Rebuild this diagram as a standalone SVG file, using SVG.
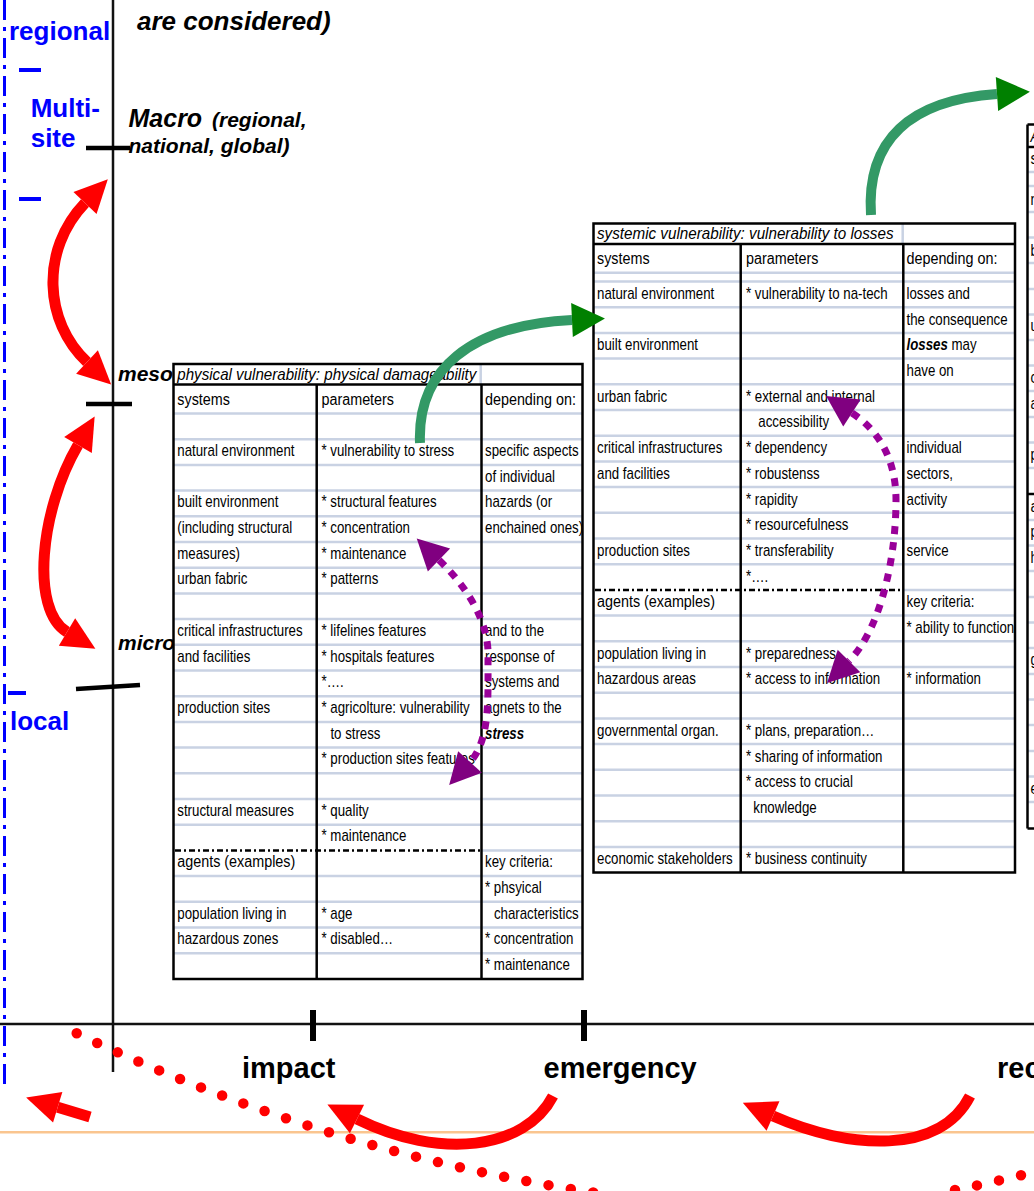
<svg xmlns="http://www.w3.org/2000/svg" width="1034" height="1191" viewBox="0 0 1034 1191">
<style>
.t{font-family:"Liberation Sans",Arial,sans-serif;font-size:16px;fill:#000}
.h{font-size:17.3px}
.ti{font-family:"Liberation Sans",Arial,sans-serif;font-style:italic;font-size:17px;fill:#000}
.bi{font-weight:bold;font-style:italic}
.grid{stroke:#c9d2e3;stroke-width:2.5;fill:none}
.blk{stroke:#000;stroke-width:2.5;fill:none}
.dd{stroke:#000;stroke-width:2.5;stroke-dasharray:6 3 2 3;fill:none}
.blue{font-family:"Liberation Sans",Arial,sans-serif;font-weight:bold;font-size:26px;fill:#0000ff}
.lab{font-family:"Liberation Sans",Arial,sans-serif;font-weight:bold;font-style:italic;fill:#000}
.ph{font-family:"Liberation Sans",Arial,sans-serif;font-weight:bold;font-size:29px;fill:#000}
.red{stroke:#ff0000;stroke-width:11;fill:none}
.grn{stroke:#339966;stroke-width:10;fill:none}
.pur{stroke:#990099;stroke-width:7;stroke-dasharray:8 8;fill:none}
.dots{stroke:#ff0000;stroke-width:10.5;stroke-linecap:round;stroke-dasharray:0 22.6;fill:none}
</style>
<defs>
<marker id="hr" markerUnits="userSpaceOnUse" orient="auto-start-reverse" overflow="visible" markerWidth="1" markerHeight="1" refX="0" refY="0"><path d="M0,-16 L33,0 L0,16Z" fill="#ff0000"/></marker>
<marker id="hg" markerUnits="userSpaceOnUse" orient="auto" overflow="visible" markerWidth="1" markerHeight="1" refX="0" refY="0"><path d="M0,-17 L33,0 L0,17Z" fill="#008000"/></marker>
<marker id="hp" markerUnits="userSpaceOnUse" orient="auto-start-reverse" overflow="visible" markerWidth="1" markerHeight="1" refX="0" refY="0"><path d="M0,-16 L31,0 L0,16Z" fill="#800080"/></marker>
</defs>
<rect width="1034" height="1191" fill="#fff"/>

<g id="axes">
<line x1="4.5" y1="0" x2="4.5" y2="1085" stroke="#0000ff" stroke-width="3" stroke-dasharray="20 7 4 7"/>
<line x1="113" y1="0" x2="113" y2="1072" stroke="#111" stroke-width="2.5"/>
<line x1="0" y1="1024" x2="1034" y2="1024" stroke="#111" stroke-width="2.5"/>
<line x1="86" y1="148" x2="130" y2="148" stroke="#000" stroke-width="4.5"/>
<line x1="86" y1="404" x2="132" y2="404" stroke="#000" stroke-width="4.5"/>
<line x1="76" y1="689" x2="140" y2="685" stroke="#000" stroke-width="4.5"/>
<line x1="313" y1="1010" x2="313" y2="1041" stroke="#000" stroke-width="6"/>
<line x1="584" y1="1010" x2="584" y2="1041" stroke="#000" stroke-width="6"/>
<line x1="19" y1="70" x2="41" y2="70" stroke="#0000ff" stroke-width="4"/>
<line x1="19" y1="199" x2="41" y2="199" stroke="#0000ff" stroke-width="4"/>
<line x1="8" y1="693" x2="26" y2="693" stroke="#0000ff" stroke-width="4"/>
<line x1="0" y1="1132.3" x2="1034" y2="1132.3" stroke="#fac58f" stroke-width="2.5"/>
</g>

<g id="scale-labels">
<text class="blue" x="9" y="40">regional</text>
<text class="blue" x="30.7" y="117">Multi-</text>
<text class="blue" x="30.7" y="147">site</text>
<text class="blue" x="10" y="730">local</text>
<text class="lab" x="137" y="30" font-size="26">are considered)</text>
<text class="lab" x="128.5" y="127" font-size="25">Macro<tspan font-size="21" dx="4"> (regional,</tspan></text>
<text class="lab" x="128.5" y="153" font-size="21">national, global)</text>
<text class="lab" x="118" y="381" font-size="21">meso</text>
<text class="lab" x="118" y="650" font-size="21">micro</text>
<text class="ph" x="242" y="1078">impact</text>
<text class="ph" x="543.5" y="1078">emergency</text>
<text class="ph" x="997" y="1078">rec</text>
</g>

<g id="table-physical">
<rect x="173.5" y="364" width="409" height="615" fill="#fff"/>
<g class="grid">
<line x1="480.7" y1="364" x2="480.7" y2="384.5"/>
<line x1="174" y1="413.5" x2="582" y2="413.5"/><line x1="174" y1="439.2" x2="582" y2="439.2"/><line x1="174" y1="464.9" x2="582" y2="464.9"/><line x1="174" y1="490.6" x2="582" y2="490.6"/><line x1="174" y1="516.3" x2="582" y2="516.3"/><line x1="174" y1="542" x2="582" y2="542"/><line x1="174" y1="567.7" x2="582" y2="567.7"/><line x1="174" y1="593.4" x2="582" y2="593.4"/><line x1="174" y1="619.1" x2="582" y2="619.1"/><line x1="174" y1="644.8" x2="582" y2="644.8"/><line x1="174" y1="670.5" x2="582" y2="670.5"/><line x1="174" y1="696.2" x2="582" y2="696.2"/><line x1="174" y1="721.9" x2="582" y2="721.9"/><line x1="174" y1="747.6" x2="582" y2="747.6"/><line x1="174" y1="773.3" x2="582" y2="773.3"/><line x1="174" y1="799" x2="582" y2="799"/><line x1="174" y1="824.7" x2="582" y2="824.7"/><line x1="482" y1="850.4" x2="582" y2="850.4"/><line x1="174" y1="876.1" x2="582" y2="876.1"/><line x1="174" y1="901.8" x2="582" y2="901.8"/><line x1="174" y1="927.5" x2="582" y2="927.5"/><line x1="174" y1="953.2" x2="582" y2="953.2"/>
</g>
<line class="dd" x1="175" y1="850.4" x2="481" y2="850.4"/>
<line class="blk" x1="174" y1="384.5" x2="582" y2="384.5"/>
<line class="blk" x1="316.7" y1="384.5" x2="316.7" y2="979"/>
<line class="blk" x1="481.5" y1="384.5" x2="481.5" y2="979"/>
<rect class="blk" x="173.5" y="364" width="409" height="615"/>
<text class="ti" x="177.3" y="380" textLength="299" lengthAdjust="spacingAndGlyphs">physical vulnerability: physical damageability</text>
<g class="t" transform="translate(177.3 0) scale(.83 1)">
<text class="h" x="0" y="404.6">systems</text>
<text x="0" y="456">natural environment</text>
<text x="0" y="507.4">built environment</text>
<text x="0" y="533.1">(including structural</text>
<text x="0" y="558.8">measures)</text>
<text x="0" y="584.5">urban fabric</text>
<text x="0" y="635.9">critical infrastructures</text>
<text x="0" y="661.6">and facilities</text>
<text x="0" y="713">production sites</text>
<text x="0" y="815.8">structural measures</text>
<text class="h" x="0" y="867.2">agents (examples)</text>
<text x="0" y="918.6">population living in</text>
<text x="0" y="944.3">hazardous zones</text>
</g>
<g class="t" transform="translate(321.5 0) scale(.83 1)">
<text class="h" x="0" y="404.6">parameters</text>
<text x="0" y="456">* vulnerability to stress</text>
<text x="0" y="507.4">* structural features</text>
<text x="0" y="533.1">* concentration</text>
<text x="0" y="558.8">* maintenance</text>
<text x="0" y="584.5">* patterns</text>
<text x="0" y="635.9">* lifelines features</text>
<text x="0" y="661.6">* hospitals features</text>
<text x="0" y="687.3">*….</text>
<text x="0" y="713">* agricolture: vulnerability</text>
<text x="10.7" y="738.7">to stress</text>
<text x="0" y="764.4">* production sites features</text>
<text x="0" y="815.8">* quality</text>
<text x="0" y="841.5">* maintenance</text>
<text x="0" y="918.6">* age</text>
<text x="0" y="944.3">* disabled…</text>
</g>
<g class="t" transform="translate(485 0) scale(.83 1)">
<text class="h" x="0" y="404.6">depending on:</text>
<text x="0" y="456">specific aspects</text>
<text x="0" y="481.7">of individual</text>
<text x="0" y="507.4">hazards (or</text>
<text x="0" y="533.1">enchained ones)</text>
<text x="0" y="635.9">and to the</text>
<text x="0" y="661.6">response of</text>
<text x="0" y="687.3">systems and</text>
<text x="0" y="713">agnets to the</text>
<text class="bi" x="0" y="738.7">stress</text>
<text x="0" y="867.2">key criteria:</text>
<text x="0" y="892.9">* phsyical</text>
<text x="10.7" y="918.6">characteristics</text>
<text x="0" y="944.3">* concentration</text>
<text x="0" y="970">* maintenance</text>
</g>
</g>

<g id="table-systemic">
<rect x="593.5" y="223.5" width="421.5" height="649" fill="#fff"/>
<g class="grid">
<line x1="902.7" y1="224" x2="902.7" y2="244"/>
<line x1="594" y1="272.7" x2="1015" y2="272.7"/><line x1="594" y1="281.5" x2="1015" y2="281.5"/>
<line x1="594" y1="307.2" x2="1015" y2="307.2"/><line x1="594" y1="332.9" x2="1015" y2="332.9"/><line x1="594" y1="358.6" x2="1015" y2="358.6"/><line x1="594" y1="384.3" x2="1015" y2="384.3"/><line x1="594" y1="410" x2="1015" y2="410"/><line x1="594" y1="435.7" x2="1015" y2="435.7"/><line x1="594" y1="461.4" x2="1015" y2="461.4"/><line x1="594" y1="487.1" x2="1015" y2="487.1"/><line x1="594" y1="512.8" x2="1015" y2="512.8"/><line x1="594" y1="538.5" x2="1015" y2="538.5"/><line x1="594" y1="564.2" x2="1015" y2="564.2"/><line x1="903" y1="589.9" x2="1015" y2="589.9"/><line x1="594" y1="615.6" x2="1015" y2="615.6"/><line x1="594" y1="641.3" x2="1015" y2="641.3"/><line x1="594" y1="667" x2="1015" y2="667"/><line x1="594" y1="692.7" x2="1015" y2="692.7"/><line x1="594" y1="718.4" x2="1015" y2="718.4"/><line x1="594" y1="744.1" x2="1015" y2="744.1"/><line x1="594" y1="769.8" x2="1015" y2="769.8"/><line x1="594" y1="795.5" x2="1015" y2="795.5"/><line x1="594" y1="821.2" x2="1015" y2="821.2"/><line x1="594" y1="846.9" x2="1015" y2="846.9"/>
</g>
<line class="dd" x1="595" y1="589.9" x2="903" y2="589.9"/>
<line class="blk" x1="594" y1="244" x2="1015" y2="244"/>
<line class="blk" x1="740.7" y1="244" x2="740.7" y2="872.6"/>
<line class="blk" x1="903.3" y1="244" x2="903.3" y2="872.6"/>
<rect class="blk" x="593.5" y="223.5" width="421.5" height="649"/>
<text class="ti" x="597" y="238.5" textLength="296.5" lengthAdjust="spacingAndGlyphs">systemic vulnerability: vulnerability to losses</text>
<g class="t" transform="translate(597 0) scale(.83 1)">
<text class="h" x="0" y="264">systems</text>
<text x="0" y="299">natural environment</text>
<text x="0" y="350.4">built environment</text>
<text x="0" y="401.8">urban fabric</text>
<text x="0" y="453.2">critical infrastructures</text>
<text x="0" y="478.9">and facilities</text>
<text x="0" y="556">production sites</text>
<text class="h" x="0" y="607.4">agents (examples)</text>
<text x="0" y="658.8">population living in</text>
<text x="0" y="684.5">hazardous areas</text>
<text x="0" y="735.9">governmental organ.</text>
<text x="0" y="864.4">economic stakeholders</text>
</g>
<g class="t" transform="translate(746 0) scale(.83 1)">
<text class="h" x="0" y="264">parameters</text>
<text x="0" y="299">* vulnerability to na-tech</text>
<text x="0" y="401.8">* external and internal</text>
<text x="14.8" y="427.5">accessibility</text>
<text x="0" y="453.2">* dependency</text>
<text x="0" y="478.9">* robustenss</text>
<text x="0" y="504.6">* rapidity</text>
<text x="0" y="530.3">* resourcefulness</text>
<text x="0" y="556">* transferability</text>
<text x="0" y="581.7">*….</text>
<text x="0" y="658.8">* preparedness</text>
<text x="0" y="684.5">* access to information</text>
<text x="0" y="735.9">* plans, preparation…</text>
<text x="0" y="761.6">* sharing of information</text>
<text x="0" y="787.3">* access to crucial</text>
<text x="8.8" y="813">knowledge</text>
<text x="0" y="864.4">* business continuity</text>
</g>
<g class="t" transform="translate(906.5 0) scale(.83 1)">
<text class="h" x="0" y="264">depending on:</text>
<text x="0" y="299">losses and</text>
<text x="0" y="324.7">the consequence</text>
<text x="0" y="350.4"><tspan class="bi">losses</tspan> may</text>
<text x="0" y="376.1">have on</text>
<text x="0" y="453.2">individual</text>
<text x="0" y="478.9">sectors,</text>
<text x="0" y="504.6">activity</text>
<text x="0" y="556">service</text>
<text x="0" y="607.4">key criteria:</text>
<text x="0" y="633.1">* ability to function</text>
<text x="0" y="684.5">* information</text>
</g>
</g>

<g id="table-partial">
<rect x="1027.5" y="124.5" width="10" height="704" fill="#fff"/>
<g class="grid">
<line x1="1028" y1="172" x2="1034" y2="172"/><line x1="1028" y1="186" x2="1034" y2="186"/><line x1="1028" y1="212" x2="1034" y2="212"/><line x1="1028" y1="237.5" x2="1034" y2="237.5"/><line x1="1028" y1="263" x2="1034" y2="263"/><line x1="1028" y1="289" x2="1034" y2="289"/><line x1="1028" y1="314.5" x2="1034" y2="314.5"/><line x1="1028" y1="340" x2="1034" y2="340"/><line x1="1028" y1="365.5" x2="1034" y2="365.5"/><line x1="1028" y1="391" x2="1034" y2="391"/><line x1="1028" y1="417" x2="1034" y2="417"/><line x1="1028" y1="442.5" x2="1034" y2="442.5"/><line x1="1028" y1="468" x2="1034" y2="468"/><line x1="1028" y1="520" x2="1034" y2="520"/><line x1="1028" y1="545.5" x2="1034" y2="545.5"/><line x1="1028" y1="571" x2="1034" y2="571"/><line x1="1028" y1="597" x2="1034" y2="597"/><line x1="1028" y1="622.5" x2="1034" y2="622.5"/><line x1="1028" y1="648" x2="1034" y2="648"/><line x1="1028" y1="674" x2="1034" y2="674"/><line x1="1028" y1="699.5" x2="1034" y2="699.5"/><line x1="1028" y1="725" x2="1034" y2="725"/><line x1="1028" y1="751" x2="1034" y2="751"/><line x1="1028" y1="776.5" x2="1034" y2="776.5"/><line x1="1028" y1="802" x2="1034" y2="802"/>
</g>
<line class="blk" x1="1027.5" y1="124.5" x2="1034" y2="124.5"/>
<line class="blk" x1="1027.5" y1="147" x2="1034" y2="147"/>
<line class="blk" x1="1027.5" y1="494" x2="1034" y2="494"/>
<line class="blk" x1="1027.5" y1="828.5" x2="1034" y2="828.5"/>
<line class="blk" x1="1027.5" y1="124.5" x2="1027.5" y2="828.5"/>
<g class="t" transform="translate(1030.5 0) scale(.83 1)">
<text x="0" y="142" font-style="italic">A</text>
<text class="h" x="0" y="164">s</text>
<text x="0" y="205">n</text>
<text x="0" y="256">b</text>
<text x="0" y="331">u</text>
<text x="0" y="383">c</text>
<text x="0" y="409">a</text>
<text x="0" y="460">p</text>
<text class="h" x="0" y="512">a</text>
<text x="0" y="537">p</text>
<text x="0" y="563">h</text>
<text x="0" y="665">g</text>
<text x="0" y="794">e</text>
</g>
</g>

<g id="connectors">
<path class="red" d="M85,203 C40,250 44,322 87,362" marker-start="url(#hr)" marker-end="url(#hr)"/>
<path class="red" d="M78,445 C40,510 30,610 67,632" marker-start="url(#hr)" marker-end="url(#hr)"/>
<path class="grn" d="M420,443 C417,370 470,325 572,320" marker-end="url(#hg)"/>
<path class="grn" d="M871,215 C866,140 910,100 997,94" marker-end="url(#hg)"/>
<path class="pur" d="M439,560 C470,590 490,625 488,660 C488,700 490,740 470,762" marker-start="url(#hp)" marker-end="url(#hp)"/>
<path class="pur" d="M852,413 C875,428 896,455 896,500 C896,560 880,630 849,661" marker-start="url(#hp)" marker-end="url(#hp)"/>
<path class="dots" d="M76.7,1033.3 Q325.5,1152.4 595,1192.7"/>
<path class="dots" d="M955,1190 Q990,1183 1042,1170"/>
<path class="red" d="M90,1117 L57.7,1107.2" marker-end="url(#hr)"/>
<path class="red" d="M553,1096 C525,1150 440,1160 357,1119" marker-end="url(#hr)"/>
<path class="red" d="M970,1096 C940,1155 850,1150 773,1116" marker-end="url(#hr)"/>
</g>
</svg>
